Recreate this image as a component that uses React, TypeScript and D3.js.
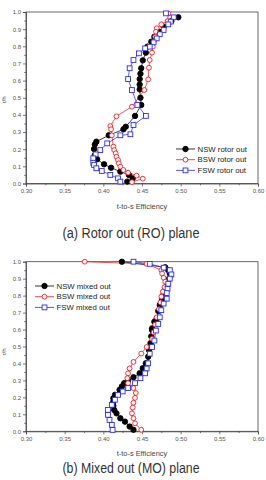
import React, { useRef, useEffect } from 'react';
import * as d3 from 'd3';

// ── Data: [t-to-s efficiency, r/h] ───────────────────────────────────────────
const roNsw: [number, number][] = [
  [0.497, 0.969], [0.488, 0.947], [0.478, 0.914], [0.472, 0.885], [0.466, 0.856], [0.462, 0.827],
  [0.457, 0.798], [0.455, 0.763], [0.451, 0.718], [0.449, 0.672], [0.448, 0.640], [0.447, 0.609],
  [0.447, 0.577], [0.447, 0.549], [0.448, 0.500], [0.449, 0.458], [0.441, 0.394], [0.429, 0.331],
  [0.426, 0.316], [0.407, 0.281], [0.391, 0.244], [0.389, 0.228], [0.388, 0.201], [0.389, 0.166],
  [0.392, 0.141], [0.401, 0.112], [0.410, 0.092], [0.422, 0.069], [0.433, 0.050], [0.438, 0.030],
  [0.431, 0.011],
];
const roBsw: [number, number][] = [
  [0.484, 0.992], [0.483, 0.947], [0.475, 0.928], [0.469, 0.905], [0.468, 0.885], [0.467, 0.856],
  [0.465, 0.827], [0.464, 0.798], [0.463, 0.763], [0.460, 0.720], [0.459, 0.675], [0.458, 0.607],
  [0.453, 0.545], [0.437, 0.448], [0.417, 0.392], [0.409, 0.335], [0.410, 0.316], [0.411, 0.281],
  [0.413, 0.215], [0.414, 0.195], [0.416, 0.176], [0.417, 0.156], [0.419, 0.137], [0.420, 0.118],
  [0.422, 0.098], [0.426, 0.079], [0.432, 0.063], [0.443, 0.046], [0.451, 0.028], [0.437, 0.008],
];
const roFsw: [number, number][] = [
  [0.481, 0.992], [0.491, 0.969], [0.487, 0.944], [0.484, 0.928], [0.478, 0.895], [0.473, 0.870],
  [0.469, 0.846], [0.465, 0.823], [0.460, 0.798], [0.454, 0.788], [0.446, 0.759], [0.439, 0.720],
  [0.434, 0.672], [0.432, 0.609], [0.437, 0.545], [0.444, 0.458], [0.455, 0.394], [0.439, 0.341],
  [0.435, 0.287], [0.422, 0.281], [0.405, 0.234], [0.396, 0.195], [0.390, 0.170], [0.387, 0.147],
  [0.387, 0.121], [0.388, 0.108], [0.391, 0.089], [0.398, 0.073], [0.409, 0.050], [0.419, 0.030],
  [0.422, 0.011],
];

const moNsw: [number, number][] = [
  [0.424, 1.0], [0.480, 0.967], [0.484, 0.950], [0.486, 0.930], [0.485, 0.900], [0.483, 0.870],
  [0.481, 0.840], [0.478, 0.810], [0.476, 0.780], [0.473, 0.745], [0.471, 0.710], [0.469, 0.666],
  [0.466, 0.646], [0.463, 0.607], [0.463, 0.597], [0.462, 0.560], [0.461, 0.520], [0.459, 0.480],
  [0.458, 0.440], [0.455, 0.401], [0.451, 0.372], [0.447, 0.342], [0.439, 0.319], [0.432, 0.300],
  [0.427, 0.284], [0.424, 0.265], [0.421, 0.245], [0.415, 0.215], [0.413, 0.195], [0.413, 0.175],
  [0.413, 0.150], [0.414, 0.126], [0.417, 0.106], [0.422, 0.077], [0.428, 0.057], [0.434, 0.028],
  [0.439, 0.009],
];
const moBsw: [number, number][] = [
  [0.376, 1.0], [0.456, 0.987], [0.475, 0.950], [0.476, 0.930], [0.478, 0.905], [0.480, 0.882],
  [0.479, 0.850], [0.477, 0.823], [0.475, 0.794], [0.474, 0.760], [0.472, 0.720], [0.469, 0.672],
  [0.467, 0.629], [0.465, 0.584], [0.463, 0.545], [0.456, 0.497], [0.449, 0.458], [0.439, 0.409],
  [0.434, 0.371], [0.432, 0.342], [0.431, 0.313], [0.432, 0.284], [0.439, 0.255], [0.442, 0.226],
  [0.441, 0.197], [0.439, 0.168], [0.438, 0.140], [0.437, 0.106], [0.439, 0.077], [0.441, 0.047],
  [0.449, 0.009],
];
const moFsw: [number, number][] = [
  [0.439, 1.0], [0.460, 0.987], [0.478, 0.965], [0.486, 0.950], [0.488, 0.925], [0.486, 0.900],
  [0.484, 0.870], [0.483, 0.840], [0.482, 0.815], [0.482, 0.782], [0.478, 0.753], [0.475, 0.714],
  [0.473, 0.672], [0.471, 0.633], [0.468, 0.594], [0.466, 0.535], [0.463, 0.497], [0.460, 0.458],
  [0.458, 0.401], [0.456, 0.370], [0.454, 0.342], [0.448, 0.313], [0.441, 0.284], [0.432, 0.255],
  [0.425, 0.235], [0.419, 0.215], [0.415, 0.186], [0.411, 0.156], [0.406, 0.126], [0.406, 0.097],
  [0.408, 0.067], [0.411, 0.038], [0.412, 0.008],
];

const xTicks = [0.30, 0.35, 0.40, 0.45, 0.50, 0.55, 0.60];
const yTicks = [0.0, 0.1, 0.2, 0.3, 0.4, 0.5, 0.6, 0.7, 0.8, 0.9, 1.0];

type Marker = 'dot' | 'circle' | 'square';
interface Series { name: string; data: [number, number][]; color: string; marker: Marker; }

const panels = [
  {
    top: 12, bottom: 183.5, caption: '(a)  Rotor  out  (RO)  plane', captionY: 238, rhY: 100,
    legend: { x: 176, y: 149 },
    series: [
      { name: 'NSW rotor out', data: roNsw, color: '#000000', marker: 'dot' },
      { name: 'BSW rotor out', data: roBsw, color: '#ee1c24', marker: 'circle' },
      { name: 'FSW rotor out', data: roFsw, color: '#2b2bf0', marker: 'square' },
    ] as Series[],
  },
  {
    top: 261.7, bottom: 431.3, caption: '(b)  Mixed  out  (MO)  plane', captionY: 473, rhY: 352,
    legend: { x: 35, y: 286 },
    series: [
      { name: 'NSW mixed out', data: moNsw, color: '#000000', marker: 'dot' },
      { name: 'BSW mixed out', data: moBsw, color: '#ee1c24', marker: 'circle' },
      { name: 'FSW mixed out', data: moFsw, color: '#2b2bf0', marker: 'square' },
    ] as Series[],
  },
];

const LEFT = 26;
const RIGHT = 258;
const FONT = 'Liberation Sans, Arial, sans-serif';

function drawMarker(g: d3.Selection<SVGGElement, unknown, null, undefined>, s: Series, x: number, y: number) {
  if (s.marker === 'square') {
    g.append('rect').attr('x', x - 2.4).attr('y', y - 2.4).attr('width', 4.8).attr('height', 4.8)
      .attr('fill', '#fff').attr('stroke', s.color).attr('stroke-width', 0.9);
  } else {
    g.append('circle').attr('cx', x).attr('cy', y).attr('r', s.marker === 'dot' ? 2.7 : 2.4)
      .attr('fill', s.marker === 'dot' ? s.color : '#fff').attr('stroke', s.color).attr('stroke-width', 0.9);
  }
}

export default function App() {
  const svgRef = useRef<SVGSVGElement>(null);

  useEffect(() => {
    if (!svgRef.current) return;
    const svg = d3.select(svgRef.current);
    svg.selectAll('*').remove();

    const x = d3.scaleLinear().domain([0.3, 0.6]).range([LEFT, RIGHT]);

    panels.forEach(p => {
      const y = d3.scaleLinear().domain([0, 1]).range([p.bottom, p.top]);
      const g = svg.append('g');

      // ── Axes ──────────────────────────────────────────────────────────────
      const xAxis = g.append('g').attr('transform', `translate(0,${p.bottom})`)
        .call(d3.axisBottom(x).tickValues(xTicks).tickFormat(d3.format('.2f')).tickSize(3).tickPadding(2));
      g.append('g').attr('transform', `translate(0,${p.bottom})`)
        .call(d3.axisBottom(x).tickValues(d3.range(0.325, 0.6, 0.05)).tickFormat(() => '').tickSize(1.8))
        .call(ax => ax.select('.domain').remove());
      const yAxis = g.append('g').attr('transform', `translate(${LEFT},0)`)
        .call(d3.axisLeft(y).tickValues(yTicks).tickFormat(d3.format('.1f')).tickSize(3).tickPadding(2));
      g.append('g').attr('transform', `translate(${LEFT},0)`)
        .call(d3.axisLeft(y).tickValues(d3.range(0.05, 1, 0.1)).tickFormat(() => '').tickSize(1.8))
        .call(ax => ax.select('.domain').remove());
      [xAxis, yAxis].forEach(ax => ax.selectAll('text')
        .attr('fill', '#555').attr('font-size', '6px').attr('font-family', FONT));
      g.selectAll('.tick line').attr('stroke', '#444').attr('stroke-width', 0.7);
      g.selectAll('.domain').attr('stroke', '#444').attr('stroke-width', 0.8);

      // Frame
      g.append('rect').attr('x', LEFT).attr('y', p.top).attr('width', RIGHT - LEFT).attr('height', p.bottom - p.top)
        .attr('fill', 'none').attr('stroke', '#444').attr('stroke-width', 0.8);

      // Axis titles
      g.append('text').attr('x', 142).attr('y', p.bottom + 25)
        .attr('text-anchor', 'middle').attr('font-size', '7.4px').attr('font-family', FONT).attr('fill', '#444')
        .text('t-to-s Efficiency');
      g.append('text').attr('transform', `translate(6,${p.rhY}) rotate(-90)`)
        .attr('text-anchor', 'middle').attr('font-size', '6px').attr('font-family', FONT).attr('fill', '#444')
        .text('r/h');

      // Caption
      g.append('text').attr('x', 62.5).attr('y', p.captionY)
        .attr('textLength', 137).attr('lengthAdjust', 'spacingAndGlyphs')
        .attr('font-size', '14px').attr('font-family', FONT).attr('fill', '#333')
        .text(p.caption);

      // ── Series ────────────────────────────────────────────────────────────
      const line = d3.line<[number, number]>().x(d => x(d[0])).y(d => y(d[1]));
      p.series.forEach(s => {
        g.append('path').attr('d', line(s.data)).attr('fill', 'none')
          .attr('stroke', s.color).attr('stroke-width', 0.75);
      });
      p.series.forEach(s => {
        const mg = g.append('g');
        s.data.forEach(d => drawMarker(mg, s, x(d[0]), y(d[1])));
      });

      // ── Legend ────────────────────────────────────────────────────────────
      p.series.forEach((s, i) => {
        const ly = p.legend.y + i * 10.7;
        const lg = g.append('g');
        lg.append('line').attr('x1', p.legend.x).attr('x2', p.legend.x + 19).attr('y1', ly).attr('y2', ly)
          .attr('stroke', s.color).attr('stroke-width', 0.8);
        drawMarker(lg, s, p.legend.x + 9.5, ly);
        lg.append('text').attr('x', p.legend.x + 21.5).attr('y', ly + 2.7)
          .attr('font-size', '7.8px').attr('font-family', FONT).attr('fill', '#222')
          .text(s.name);
      });
    });
  }, []);

  return (
    <svg ref={svgRef} width={266} height={480}
      style={{ position: 'absolute', left: 0, top: 0, background: '#fff' }} />
  );
}
